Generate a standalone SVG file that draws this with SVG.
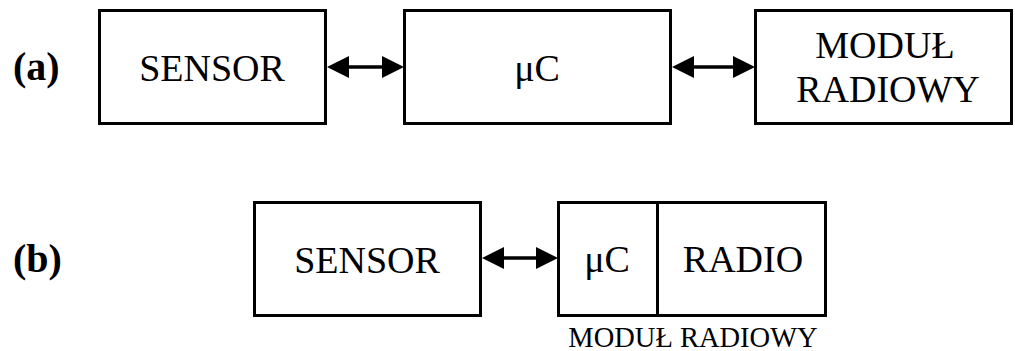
<svg xmlns="http://www.w3.org/2000/svg" width="1015" height="351" viewBox="0 0 1015 351">
<style>
.box{fill:#fff;stroke:#000;stroke-width:3}
.t{font-family:'Liberation Serif','Tinos','Times New Roman','DejaVu Serif',serif;font-size:38px;fill:#000;text-anchor:middle}
.lbl{font-family:'Liberation Serif','Tinos','Times New Roman','DejaVu Serif',serif;font-size:40px;font-weight:bold;fill:#000}
.small{font-family:'Liberation Serif','Tinos','Times New Roman','DejaVu Serif',serif;font-size:28.5px;fill:#000;text-anchor:middle}
.ln{stroke:#000;stroke-width:3.5;fill:none}
.ah{fill:#000}
</style>
<rect width="1015" height="351" fill="#fff"/>
<text class="lbl" x="13" y="80">(a)</text>
<text class="lbl" x="13" y="272">(b)</text>
<g id="sensor-a">
<rect class="box" x="99.5" y="10.5" width="226" height="113"/>
<text class="t" x="212" y="81">SENSOR</text>
</g>
<g id="uc-a">
<rect class="box" x="404.5" y="10.5" width="266" height="113"/>
<text class="t" x="537" y="81">μC</text>
</g>
<g id="radio-a">
<rect class="box" x="755.5" y="10.5" width="256" height="113"/>
<text class="t" x="885" y="58">MODUŁ</text>
<text class="t" x="888" y="102">RADIOWY</text>
</g>
<g id="sensor-b">
<rect class="box" x="254.5" y="202.5" width="226" height="113"/>
<text class="t" x="367" y="273">SENSOR</text>
</g>
<g id="module-b">
<rect class="box" x="558.5" y="202.5" width="267" height="113"/>
<line class="ln" x1="657.5" y1="202" x2="657.5" y2="316" style="stroke-width:3"/>
<text class="t" x="607" y="272">μC</text>
<text class="t" x="743" y="272">RADIO</text>
<text class="small" x="693" y="347">MODUŁ RADIOWY</text>
</g>
<g id="connectors">
<line class="ln" x1="345" y1="67" x2="385" y2="67"/>
<polygon class="ah" points="327,67 349,56 349,78"/>
<polygon class="ah" points="404,67 382,56 382,78"/>
<line class="ln" x1="690" y1="67" x2="736" y2="67"/>
<polygon class="ah" points="672,67 694,56 694,78"/>
<polygon class="ah" points="755,67 733,56 733,78"/>
<line class="ln" x1="500" y1="258" x2="540" y2="258"/>
<polygon class="ah" points="482,258 504,247 504,269"/>
<polygon class="ah" points="558,258 536,247 536,269"/>
</g>
</svg>
